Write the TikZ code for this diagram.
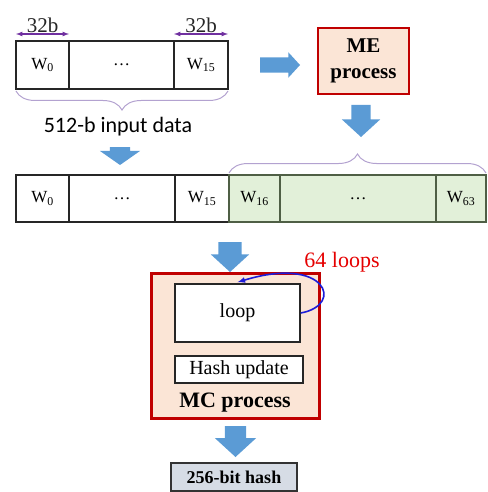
\documentclass[tikz,border=0pt]{standalone}
\usepackage{fontspec}
\setmainfont{Liberation Serif}
\newfontfamily\labelfont{Carlito}
\usepackage{tikz}
\usetikzlibrary{positioning}
\usetikzlibrary{calc}
\usetikzlibrary{shapes.arrows}
\usetikzlibrary{decorations.pathreplacing}

\definecolor{procred}{HTML}{C00000}
\definecolor{procfill}{HTML}{FBE5D6}
\definecolor{wordgreen}{HTML}{E2F0D9}
\definecolor{greenline}{HTML}{4F5F45}
\definecolor{flowblue}{HTML}{5B9BD5}
\definecolor{dimpurple}{HTML}{7030A0}
\definecolor{bracepurple}{HTML}{B3A2D0}
\definecolor{hashfill}{HTML}{D6DCE5}
\definecolor{loopblue}{HTML}{1C1CD8}

\tikzset{
  word/.style={draw=black!85,rectangle,line width=1.5pt,outer sep=0pt,inner sep=0pt,
    minimum height=48pt,font=\fontsize{17}{20}\selectfont},
  newword/.style={word,fill=wordgreen,draw=greenline},
  proc/.style={draw=procred,fill=procfill,rectangle,outer sep=0pt,align=center},
  fat/.style={single arrow,fill=flowblue,draw=none,inner xsep=0pt,outer sep=0pt,
    single arrow tip angle=95,anchor=tail},
  dim/.style={dimpurple,line width=1.2pt,latex-latex},
  wbrace/.style={bracepurple,line width=1pt,decorate,decoration={brace,amplitude=19pt}},
  big/.style={font=\fontsize{21}{26}\selectfont}
}

\begin{document}
\begin{tikzpicture}[x=1pt,y=-1pt]
\useasboundingbox (0,0) rectangle (487,492);

% input block
\node (in0) at (42.5,65) [word,minimum width=53pt] {W\textsubscript{0}};
\node (indots) [word,minimum width=105pt,right=0pt of in0] {\dots};
\node (in15) [word,minimum width=54pt,right=0pt of indots] {W\textsubscript{15}};

\draw [dim] ([yshift=7pt]in0.north west) -- ([yshift=7pt]in0.north east)
  node [midway,above,inner sep=1pt,black!85,big] {32b};
\draw [dim] ([yshift=7pt]in15.north west) -- ([yshift=7pt]in15.north east)
  node [midway,above,inner sep=1pt,black!85,big] {32b};

\draw [wbrace,decoration={mirror}] ([yshift=-2pt]in0.south west) -- ([yshift=-2pt]in15.south east);
\node (inlabel) at (118,127) {\labelfont\fontsize{22}{26}\selectfont 512-b input data};

% message expansion
\node (me) at (363.5,61) [proc,line width=2.5pt,minimum width=91pt,minimum height=66pt,
  font=\fontsize{21}{26}\selectfont\bfseries] {ME\\process};
\node (a1) at (260,65) [fat,inner ysep=7.5pt,single arrow head extend=5pt,minimum height=40pt] {};
\node (a2) at (361,105) [fat,rotate=-90,inner ysep=9.5pt,single arrow head extend=9.5pt,minimum height=32pt] {};
\node (a3) at (120,147) [fat,rotate=-90,inner ysep=10pt,single arrow head extend=10pt,minimum height=18pt,single arrow tip angle=110] {};

% expanded words
\node (w0) at (42.5,198.5) [word,minimum width=53pt,minimum height=47pt] {W\textsubscript{0}};
\node (wdots) [word,minimum width=106pt,minimum height=47pt,right=0pt of w0] {\dots};
\node (w15) [word,minimum width=54pt,minimum height=47pt,right=0pt of wdots] {W\textsubscript{15}};
\node (w16) [newword,minimum width=51pt,minimum height=47pt,right=0pt of w15] {W\textsubscript{16}};
\node (wgdots) [newword,minimum width=156pt,minimum height=47pt,right=0pt of w16] {\dots};
\node (w63) [newword,minimum width=50pt,minimum height=47pt,right=0pt of wgdots] {W\textsubscript{63}};

\draw [wbrace] ([yshift=2pt]w16.north west) -- ([yshift=2pt]w63.north east);

% compression
\node (a4) at (230,242) [fat,rotate=-90,inner ysep=11.5pt,single arrow head extend=7.5pt,minimum height=30pt] {};
\node (mc) at (235,345.5) [proc,line width=3pt,minimum width=168pt,minimum height=145pt] {};
\node (loop) at (237.5,313) [draw=black!85,fill=white,line width=1.5pt,minimum width=125pt,
  minimum height=58pt,font=\fontsize{20}{24}\selectfont] {loop};
\node (upd) at (239,369.5) [draw=black!85,fill=white,line width=1.5pt,minimum width=128pt,
  minimum height=27pt,inner sep=0pt,font=\fontsize{20}{24}\selectfont] {Hash update};
\node (mclabel) at (235,403) [font=\fontsize{22}{26}\selectfont\bfseries] {MC process};

\draw [loopblue,line width=1.6pt,-latex] (loop.east) .. controls (345,305) and (326,255) .. ([yshift=1pt]loop.north);
\node (count) at (342,262) [red!90!black,font=\fontsize{22}{26}\selectfont] {64 loops};

% output
\node (a5) at (235.5,426) [fat,rotate=-90,inner ysep=10.5pt,single arrow head extend=10pt,minimum height=31pt] {};
\node (hash) at (234,477) [draw=black!80,fill=hashfill,line width=1.5pt,minimum width=126pt,
  minimum height=28pt,inner sep=0pt,font=\fontsize{18}{22}\selectfont\bfseries] {256-bit hash};

\end{tikzpicture}
\end{document}
